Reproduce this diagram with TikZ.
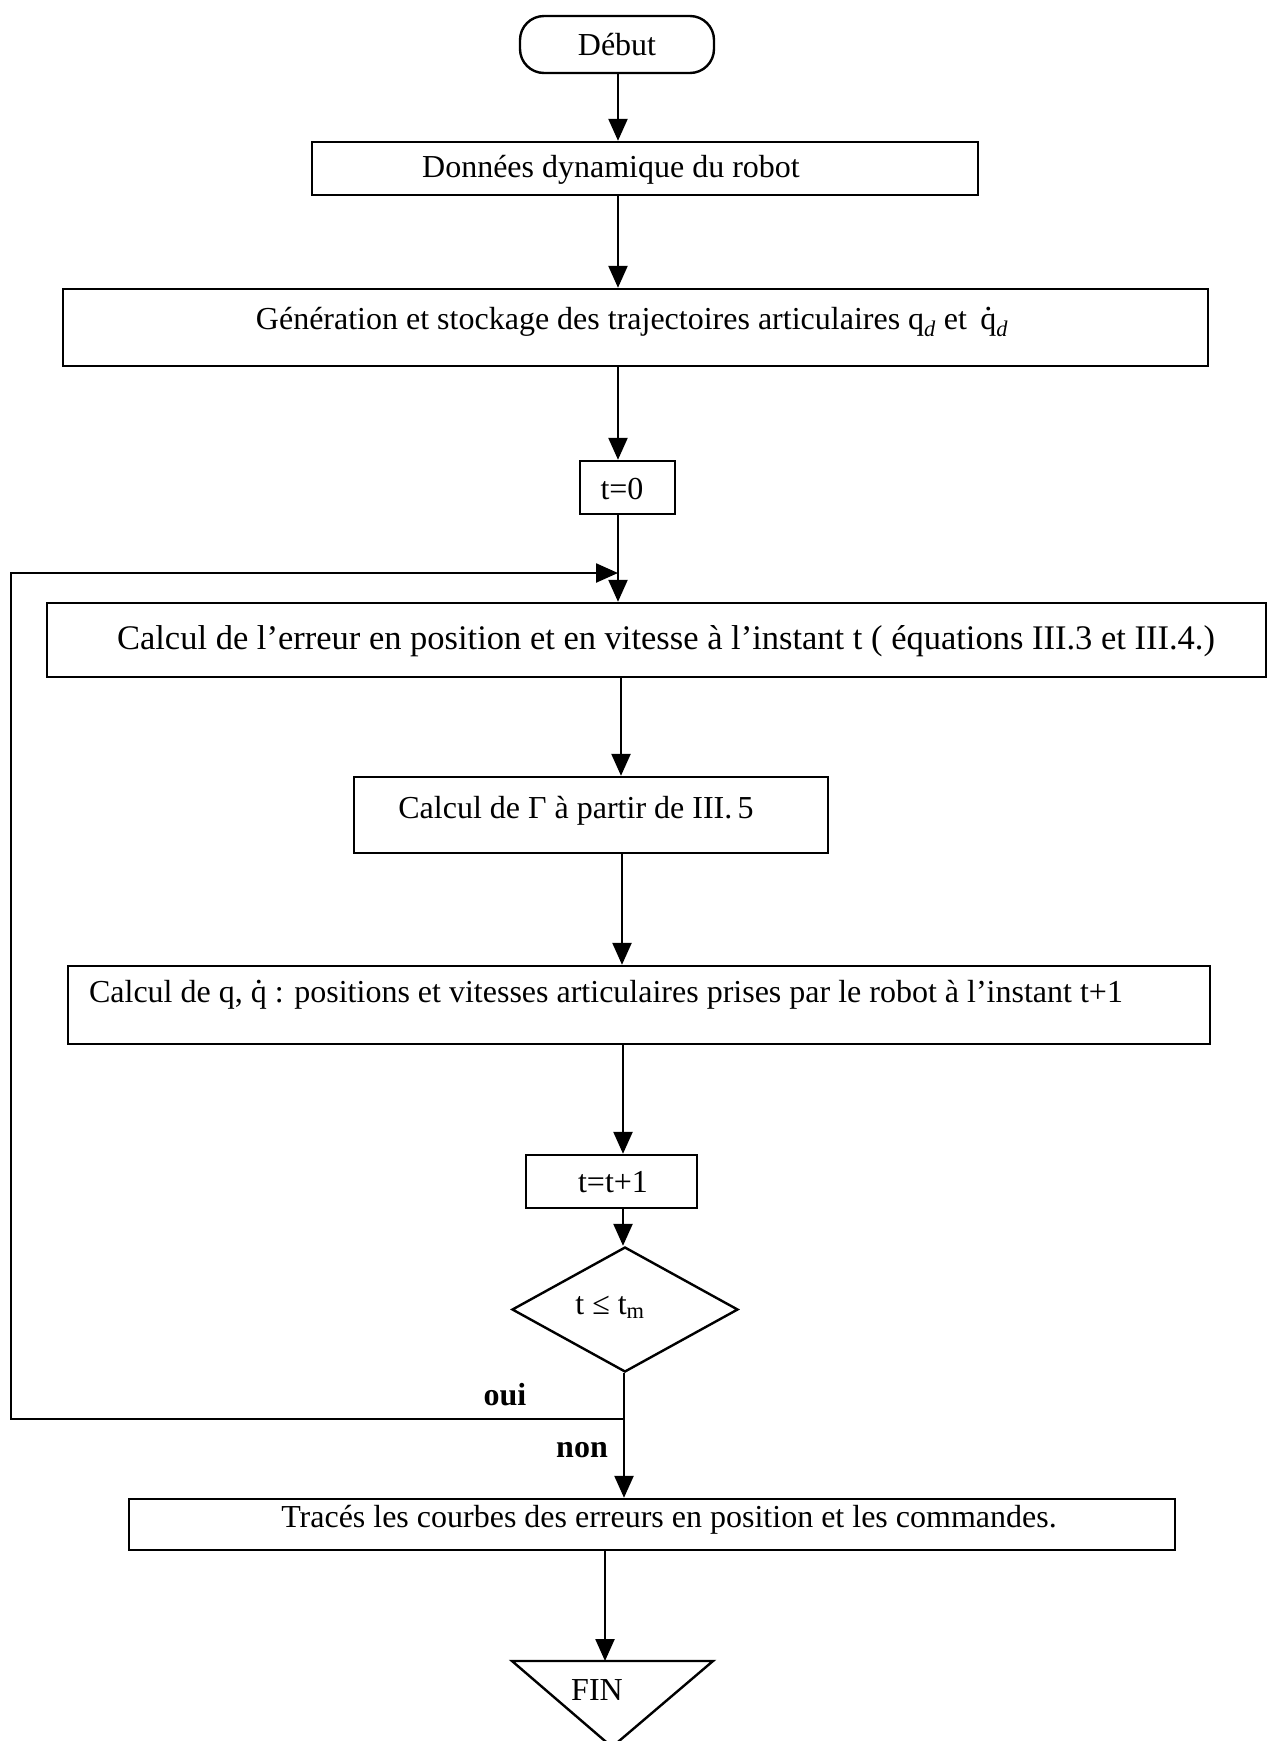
\documentclass[tikz,border=0pt]{standalone}
\usepackage{fontspec}
\setmainfont{Liberation Serif}
\usetikzlibrary{arrows.meta,shapes.geometric}
\newcommand{\qdt}{\ooalign{q\cr\hidewidth\raisebox{0.6em}{.}\hidewidth\cr}}
\begin{document}
\begin{tikzpicture}[x=1pt,y=-1pt,
  every node/.style={font=\fontsize{32}{38}\selectfont},
  ln/.style={line width=2.4pt},
  arr/.style={ln,-{Triangle[length=22pt,width=19pt]}},
  boxx/.style={draw,ln,rectangle,inner sep=0pt},
  term/.style={draw,ln,rectangle,rounded corners=24pt,inner sep=0pt,minimum width=194pt,minimum height=57pt},
  txt/.style={inner sep=0pt},
  dec/.style={draw,ln,diamond,inner sep=0pt,minimum width=226pt,minimum height=125pt}
]
\useasboundingbox (0,0) rectangle (1276,1741);
\fill[white] (0,0) rectangle (1276,1741);

% column coordinates
\coordinate (ca) at (618,0);
\coordinate (cb) at (621,0);
\coordinate (cc) at (622,0);
\coordinate (cd) at (623,0);
\coordinate (ce) at (624,0);
\coordinate (cf) at (605,0);

% nodes
\node[term] (debut) at (617,44.5) {D\'ebut};
\node[boxx,minimum width=666pt,minimum height=53pt] (b1) at (645,168.5) {};
\node[txt] (t1) at (611,170) {Donn\'ees dynamique du robot};
\node[boxx,minimum width=1145pt,minimum height=77pt] (b2) at (635.5,327.5) {};
\node[txt] (t2) at (632,322) {G\'en\'eration et stockage des trajectoires articulaires q\textsubscript{\textit{d}} et \,\qdt\textsubscript{\textit{d}}};
\node[boxx,minimum width=95pt,minimum height=53pt] (t0) at (627.5,487.5) {};
\node[txt] (tt0) at (622,489) {t=0};
\node[boxx,minimum width=1219pt,minimum height=74pt] (b3) at (656.5,640) {};
\node[txt,font=\fontsize{34.5}{40}\selectfont] (t3) at (666,641) {Calcul de l'erreur en position et en vitesse \`a l'instant t ( \'equations III.3 et III.4.)};
\node[boxx,minimum width=474pt,minimum height=76pt] (b4) at (591,815) {};
\node[txt] (t4) at (576,811) {Calcul de Γ \`a partir de III.\,5};
\node[boxx,minimum width=1142pt,minimum height=78pt] (b5) at (639,1005) {};
\node[txt] (t5) at (606,995) {Calcul de q, \qdt\ : positions et vitesses articulaires prises par le robot \`a l'instant t+1};
\node[boxx,minimum width=171pt,minimum height=53pt] (tt1) at (611.5,1181.5) {};
\node[txt] (ttt1) at (613,1182) {t=t+1};
\node[dec] (dia) at (625,1309.5) {};
\node[txt] (tdia) at (610,1307) {t ≤ t\textsubscript{m}};
\node[boxx,minimum width=1046pt,minimum height=51pt] (b6) at (652,1524.5) {};
\node[txt] (t6) at (669,1520) {Trac\'es les courbes des erreurs en position et les commandes.};
\draw[ln,line join=miter] (512,1661) -- (713,1661) -- (612,1747) -- cycle;
\coordinate (fintop) at (605,1661);
\node[txt] (fin) at (597,1690) {FIN};
\node[txt,font=\fontsize{32}{38}\selectfont\bfseries] (oui) at (505,1395) {oui};
\node[txt,font=\fontsize{32}{38}\selectfont\bfseries] (non) at (582,1450) {non};

% junctions
\coordinate (j1) at (618,573);
\coordinate (j2) at (624,1419);

% connectors
\draw[arr] (debut.south -| ca) -- (b1.north -| ca);
\draw[arr] (b1.south -| ca) -- (b2.north -| ca);
\draw[arr] (b2.south -| ca) -- (t0.north -| ca);
\draw[arr] (t0.south -| ca) -- (b3.north -| ca);
\draw[arr] (b3.south -| cb) -- (b4.north -| cb);
\draw[arr] (b4.south -| cc) -- (b5.north -| cc);
\draw[arr] (b5.south -| cd) -- (tt1.north -| cd);
\draw[arr] (tt1.south -| cd) -- (dia.north -| cd);
\draw[arr] (dia.south -| ce) -- (b6.north -| ce);
\draw[arr] (j2) -- (11,1419) -- (11,573) -- (j1);
\draw[arr] (b6.south -| cf) -- (fintop);
\end{tikzpicture}
\end{document}
